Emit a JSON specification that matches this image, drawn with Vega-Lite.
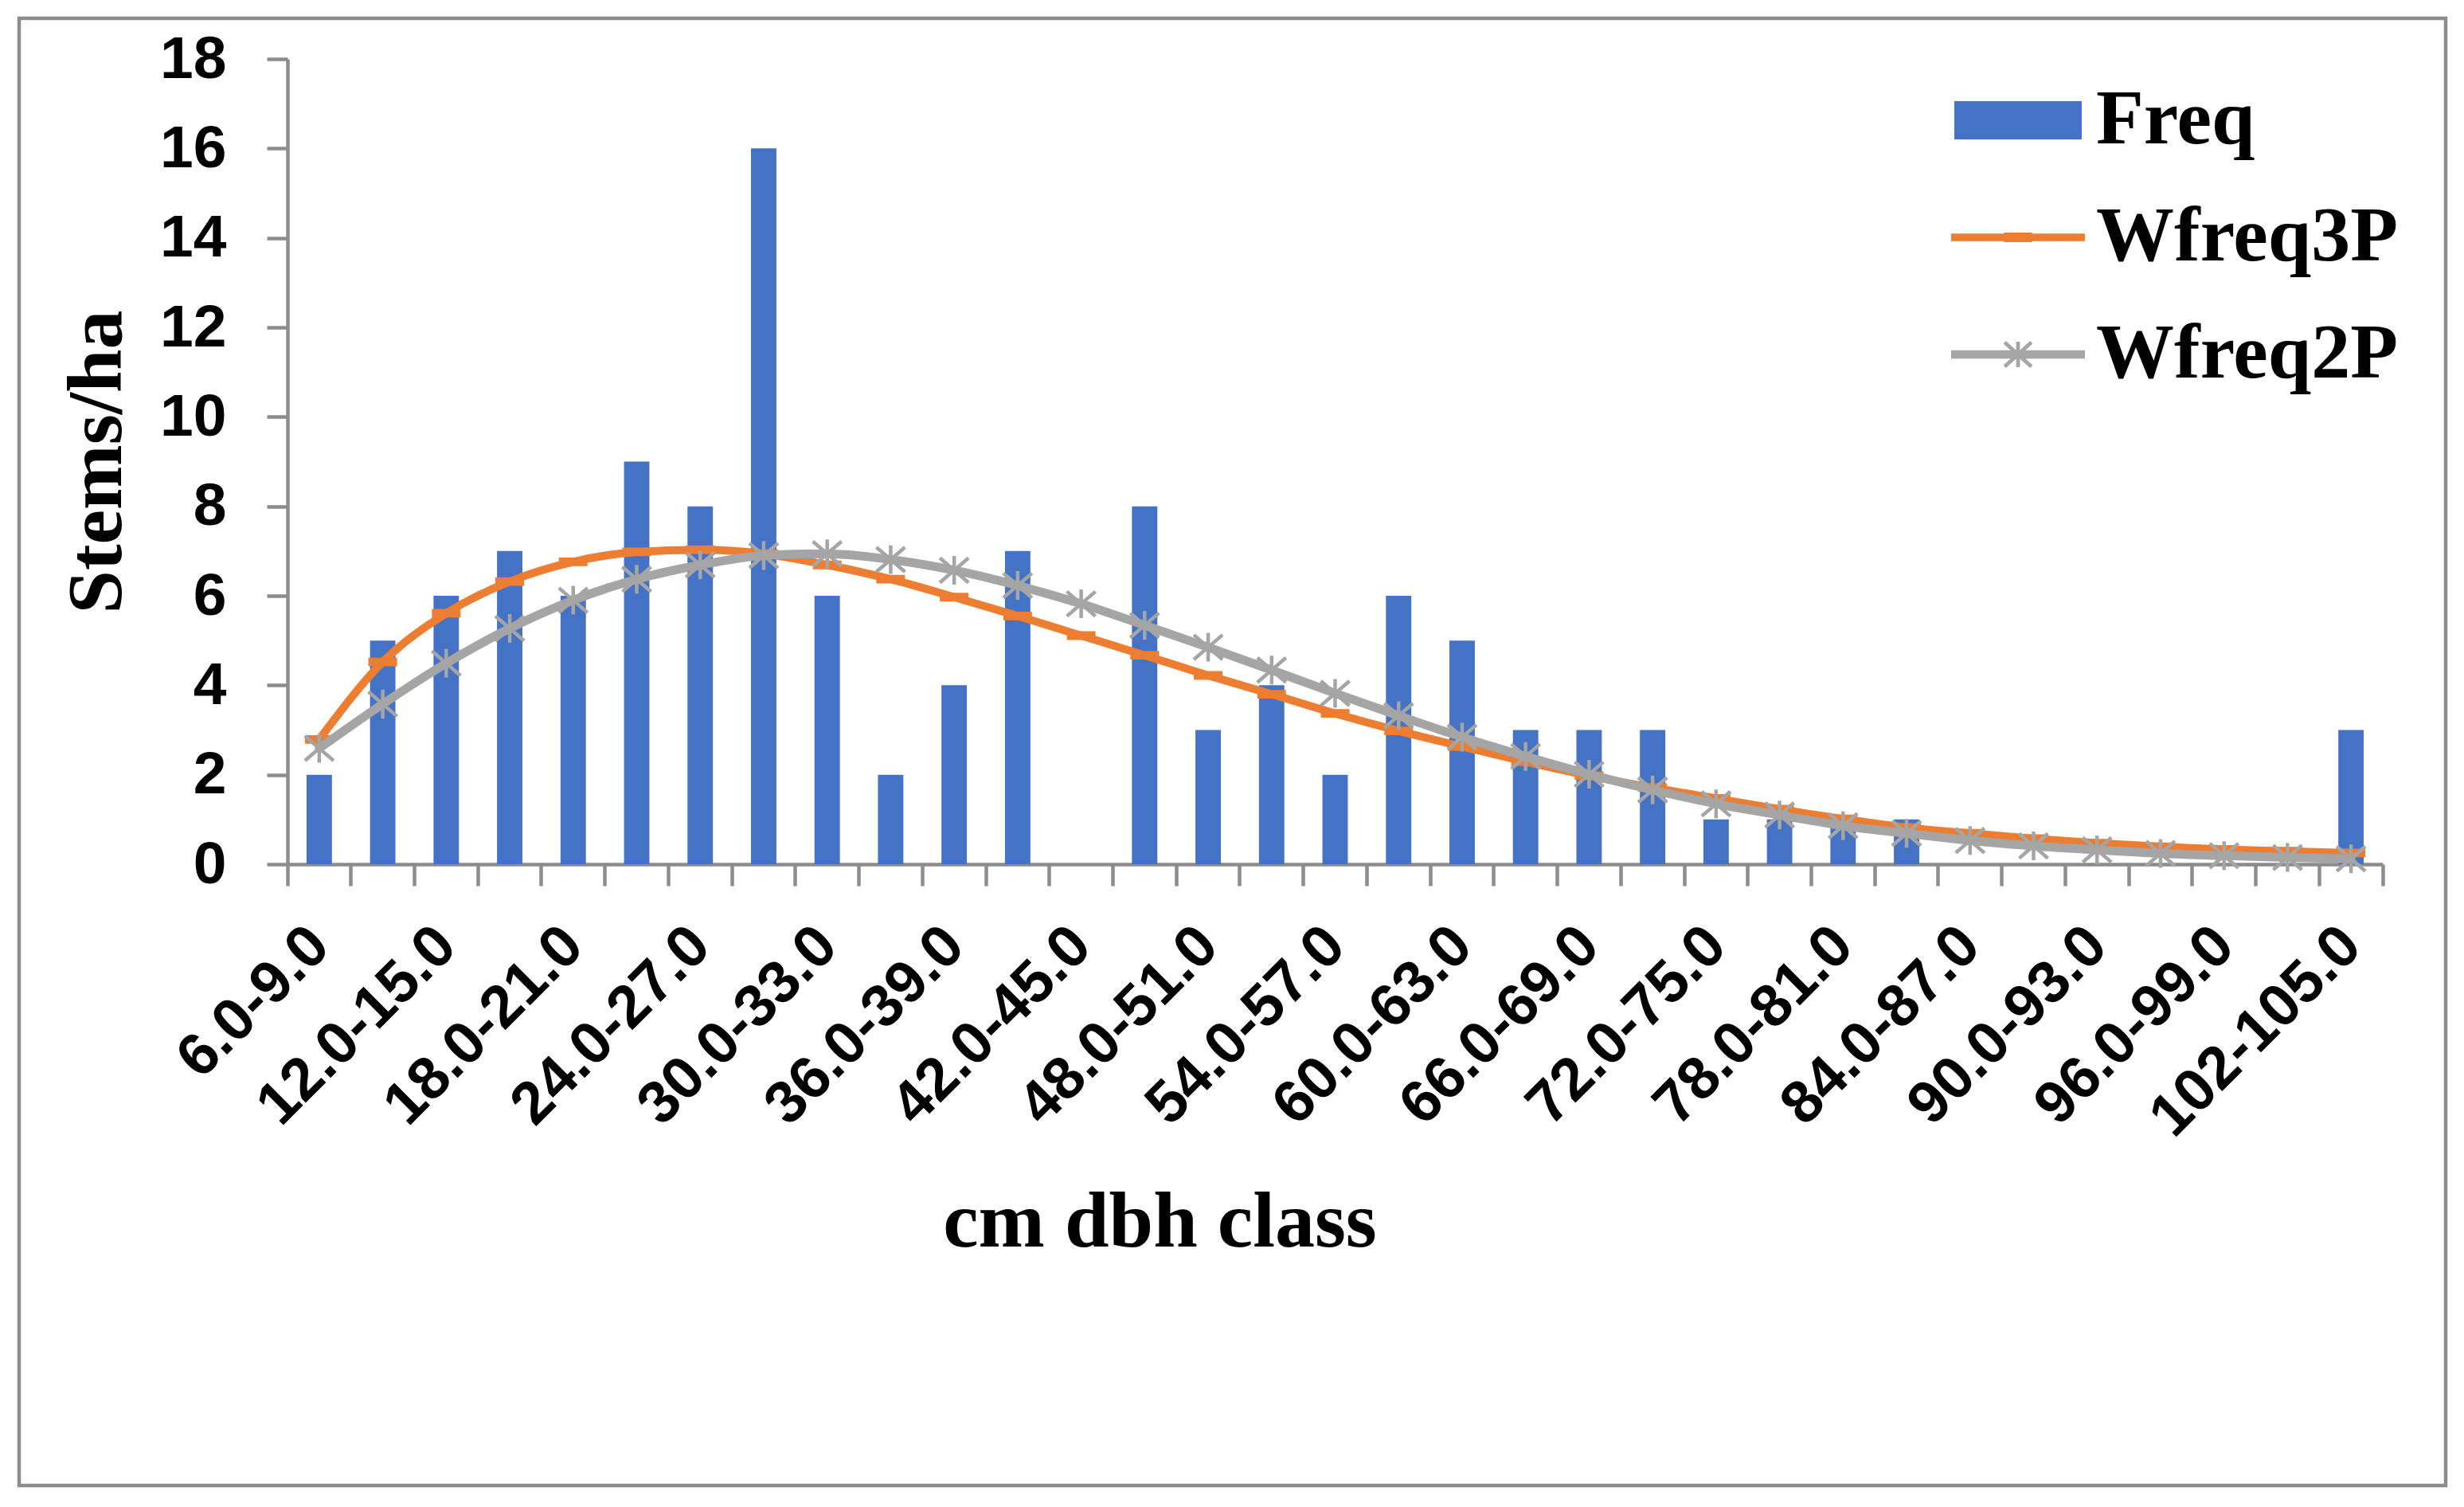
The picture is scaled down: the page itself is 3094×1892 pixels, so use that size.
{
  "$schema": "https://vega.github.io/schema/vega-lite/v6.json",
  "width": 3047,
  "height": 1842,
  "autosize": {"type": "none"},
  "padding": {"left": 24, "top": 23, "right": 23, "bottom": 27},
  "background": "white",
  "config": {
    "view": {"stroke": "#8C8C8C", "strokeWidth": 4.5},
    "axisY": {
      "domainColor": "#8C8C8C", "domainWidth": 4.5,
      "tickColor": "#8C8C8C", "tickWidth": 4.5, "tickSize": 26,
      "labelFont": "Liberation Sans", "labelFontWeight": "bold", "labelFontSize": 75, "labelColor": "black", "labelPadding": 51,
      "titleFont": "Liberation Serif", "titleFontWeight": "bold", "titleFontSize": 98, "titleColor": "black", "titlePadding": 28,
      "grid": false
    }
  },
  "data": {
    "values": [
      {"class": "6.0-9.0", "Freq": 2, "W3": 2.79, "W2": 2.59},
      {"class": "9.0-12.0", "Freq": 5, "W3": 4.52, "W2": 3.58},
      {"class": "12.0-15.0", "Freq": 6, "W3": 5.61, "W2": 4.49},
      {"class": "15.0-18.0", "Freq": 7, "W3": 6.32, "W2": 5.27},
      {"class": "18.0-21.0", "Freq": 6, "W3": 6.76, "W2": 5.90},
      {"class": "21.0-24.0", "Freq": 9, "W3": 6.98, "W2": 6.37},
      {"class": "24.0-27.0", "Freq": 8, "W3": 7.03, "W2": 6.69},
      {"class": "27.0-30.0", "Freq": 16, "W3": 6.94, "W2": 6.90},
      {"class": "30.0-33.0", "Freq": 6, "W3": 6.69, "W2": 6.94},
      {"class": "33.0-36.0", "Freq": 2, "W3": 6.37, "W2": 6.81},
      {"class": "36.0-39.0", "Freq": 4, "W3": 5.97, "W2": 6.57},
      {"class": "39.0-42.0", "Freq": 7, "W3": 5.55, "W2": 6.23},
      {"class": "42.0-45.0", "Freq": 0, "W3": 5.11, "W2": 5.82},
      {"class": "45.0-48.0", "Freq": 8, "W3": 4.67, "W2": 5.34},
      {"class": "48.0-51.0", "Freq": 3, "W3": 4.22, "W2": 4.85},
      {"class": "51.0-54.0", "Freq": 4, "W3": 3.80, "W2": 4.34},
      {"class": "54.0-57.0", "Freq": 2, "W3": 3.37, "W2": 3.82},
      {"class": "57.0-60.0", "Freq": 6, "W3": 2.98, "W2": 3.32},
      {"class": "60.0-63.0", "Freq": 5, "W3": 2.63, "W2": 2.84},
      {"class": "63.0-66.0", "Freq": 3, "W3": 2.29, "W2": 2.41},
      {"class": "66.0-69.0", "Freq": 3, "W3": 1.98, "W2": 2.01},
      {"class": "69.0-72.0", "Freq": 3, "W3": 1.71, "W2": 1.66},
      {"class": "72.0-75.0", "Freq": 1, "W3": 1.47, "W2": 1.35},
      {"class": "75.0-78.0", "Freq": 1, "W3": 1.23, "W2": 1.10},
      {"class": "78.0-81.0", "Freq": 1, "W3": 1.01, "W2": 0.86},
      {"class": "81.0-84.0", "Freq": 1, "W3": 0.82, "W2": 0.69},
      {"class": "84.0-87.0", "Freq": 0, "W3": 0.69, "W2": 0.53},
      {"class": "87.0-90.0", "Freq": 0, "W3": 0.57, "W2": 0.41},
      {"class": "90.0-93.0", "Freq": 0, "W3": 0.47, "W2": 0.32},
      {"class": "93.0-96.0", "Freq": 0, "W3": 0.39, "W2": 0.24},
      {"class": "96.0-99.0", "Freq": 0, "W3": 0.33, "W2": 0.19},
      {"class": "99.0-102", "Freq": 0, "W3": 0.29, "W2": 0.15},
      {"class": "102-105.0", "Freq": 3, "W3": 0.25, "W2": 0.12}
    ]
  },
  "resolve": {"axis": {"x": "independent"}},
  "layer": [
    {
      "mark": {"type": "bar", "width": {"band": 0.4}},
      "encoding": {
        "x": {
          "field": "class", "type": "nominal", "sort": null,
          "scale": {"range": [337, 2968], "paddingInner": 0, "paddingOuter": 0},
          "axis": {
            "orient": "bottom", "offset": -780, "bandPosition": 0,
            "labels": false, "ticks": true, "tickSize": 27, "tickWidth": 4.5, "tickColor": "#8C8C8C",
            "domain": true, "domainColor": "#8C8C8C", "domainWidth": 4.5, "grid": false, "title": null
          }
        },
        "y": {
          "field": "Freq", "type": "quantitative",
          "scale": {"domain": [0, 18], "range": [1062, 51], "nice": false, "zero": true},
          "axis": {"title": "Stems/ha", "offset": -337, "format": "d", "values": [0, 2, 4, 6, 8, 10, 12, 14, 16, 18]}
        },
        "color": {
          "datum": "Freq", "type": "nominal",
          "scale": {"domain": ["Freq", "Wfreq3P", "Wfreq2P"], "range": ["#4472C4", "#ED7D31", "#A5A5A5"]},
          "legend": {
            "orient": "none", "legendX": 2430, "legendY": 48, "title": null, "padding": 0,
            "symbolSize": 25600, "labelFont": "Liberation Serif", "labelFontWeight": "bold", "labelFontSize": 98,
            "labelColor": "black", "labelOffset": 18, "labelLimit": 1000, "rowPadding": 18,
            "encode": {
              "symbols": {
                "update": {
                  "shape": {"signal": "datum.value == 'Freq' ? 'M-1,-0.3L1,-0.3L1,0.3L-1,0.3Z' : datum.value == 'Wfreq3P' ? 'M-1.05,-0.06L1.05,-0.06L1.05,0.06L-1.05,0.06ZM-0.22,-0.075L0.22,-0.075L0.22,0.075L-0.22,0.075Z' : 'M-1.05,-0.065L1.05,-0.065L1.05,0.065L-1.05,0.065ZM-0.03,-0.2L0.03,-0.2L0.03,0.2L-0.03,0.2ZM-0.1899,-0.2122L0.2301,0.1678L0.1899,0.2122L-0.2301,-0.1678ZM0.2301,-0.1678L-0.1899,0.2122L-0.2301,0.1678L0.1899,-0.2122Z'"},
                  "fill": {"signal": "datum.value == 'Freq' ? '#4472C4' : datum.value == 'Wfreq3P' ? '#ED7D31' : '#A5A5A5'"},
                  "stroke": {"value": "transparent"},
                  "strokeWidth": {"value": 0},
                  "opacity": {"value": 1}
                }
              }
            }
          }
        }
      }
    },
    {
      "mark": {"type": "line", "interpolate": "monotone", "strokeWidth": 10, "strokeCap": "round"},
      "encoding": {
        "x": {
          "field": "class", "type": "nominal", "sort": null,
          "axis": {
            "orient": "bottom", "offset": -780, "bandPosition": 1, "values": ["102-105.0"],
            "labels": false, "ticks": true, "tickSize": 27, "tickWidth": 4.5, "tickColor": "#8C8C8C",
            "domain": false, "grid": false, "title": null
          }
        },
        "y": {"field": "W3", "type": "quantitative", "axis": {"title": "Stems/ha"}},
        "color": {"datum": "Wfreq3P", "type": "nominal", "legend": null}
      }
    },
    {
      "mark": {"type": "point", "shape": "M-1,-0.3L1,-0.3L1,0.3L-1,0.3Z", "size": 1296, "filled": true, "color": "#ED7D31", "opacity": 1, "strokeWidth": 0},
      "encoding": {
        "x": {"field": "class", "type": "nominal", "sort": null, "axis": null},
        "y": {"field": "W3", "type": "quantitative", "axis": {"title": "Stems/ha"}}
      }
    },
    {
      "mark": {"type": "line", "interpolate": "monotone", "strokeWidth": 11, "strokeCap": "round"},
      "encoding": {
        "x": {
          "field": "class", "type": "nominal", "sort": null,
          "axis": {
            "orient": "bottom", "offset": -780, "bandPosition": 0.5,
            "ticks": false, "tickSize": 0, "domain": false, "grid": false,
            "values": ["6.0-9.0", "12.0-15.0", "18.0-21.0", "24.0-27.0", "30.0-33.0", "36.0-39.0", "42.0-45.0", "48.0-51.0", "54.0-57.0", "60.0-63.0", "66.0-69.0", "72.0-75.0", "78.0-81.0", "84.0-87.0", "90.0-93.0", "96.0-99.0", "102-105.0"],
            "labelAngle": -45, "labelAlign": "right", "labelBaseline": "middle",
            "labelFont": "Liberation Sans", "labelFontWeight": "bold", "labelFontSize": 75, "labelColor": "black",
            "labelPadding": 90, "labelOverlap": false, "labelFlush": false, "labelLimit": 1000,
            "title": "cm dbh class", "titleFont": "Liberation Serif", "titleFontWeight": "bold", "titleFontSize": 100,
            "titleColor": "black", "titleX": 1432, "titleY": 479, "titleBaseline": "alphabetic", "titleAlign": "center"
          }
        },
        "y": {"field": "W2", "type": "quantitative", "axis": {"title": "Stems/ha"}},
        "color": {"datum": "Wfreq2P", "type": "nominal", "legend": null}
      }
    },
    {
      "mark": {"type": "point", "shape": "M0,-1L0,1M-1,-0.86L1,0.86M-1,0.86L1,-0.86", "size": 1296, "filled": false, "color": "#A5A5A5", "opacity": 1, "strokeWidth": 4.5},
      "encoding": {
        "x": {"field": "class", "type": "nominal", "sort": null, "axis": null},
        "y": {"field": "W2", "type": "quantitative", "axis": {"title": "Stems/ha"}}
      }
    }
  ]
}
